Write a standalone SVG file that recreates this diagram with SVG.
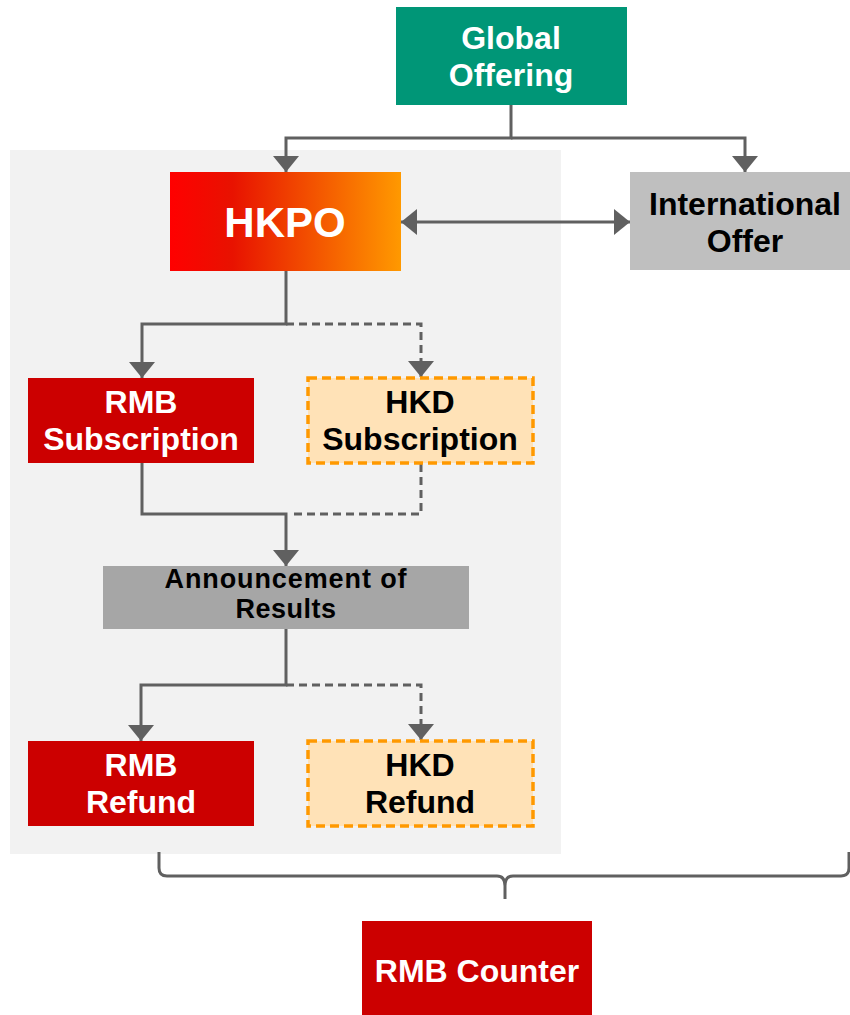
<svg xmlns="http://www.w3.org/2000/svg" width="850" height="1015" viewBox="0 0 850 1015">
<defs>
<linearGradient id="hkpoGrad" x1="0" y1="0" x2="1" y2="0">
<stop offset="0" stop-color="#ff0000"/>
<stop offset="0.27" stop-color="#e81200"/>
<stop offset="1" stop-color="#ff9900"/>
</linearGradient>
<marker id="arr" viewBox="0 0 16 26" refX="16" refY="13" markerWidth="16" markerHeight="26" markerUnits="userSpaceOnUse" orient="auto-start-reverse">
<path d="M0,0 L16,13 L0,26 Z" fill="#606060"/>
</marker>
</defs>
<style>
.t{font-family:"Liberation Sans",Arial,sans-serif;font-weight:bold;text-anchor:middle}
.w{fill:#ffffff}
.k{fill:#000000}
.c{fill:none;stroke:#606060;stroke-width:3}
.d{fill:none;stroke:#606060;stroke-width:3;stroke-dasharray:8 5}
.red{fill:#cc0000}
.hkd{fill:#ffe2b7;stroke:#ff9900;stroke-width:3.5;stroke-dasharray:9 5}
</style>
<rect id="panel" x="10" y="150" width="551" height="704" fill="#f2f2f2"/>
<g id="connectors">
<path class="c" d="M511,105 V138 H286 V172" marker-end="url(#arr)"/>
<path class="c" d="M511,138 H745 V172" marker-end="url(#arr)"/>
<path class="c" d="M401,222 H630" marker-start="url(#arr)" marker-end="url(#arr)"/>
<path class="c" d="M286,271 V324 H142 V378" marker-end="url(#arr)"/>
<path class="d" d="M286,324 H421 V377" marker-end="url(#arr)"/>
<path class="c" d="M142,463 V514 H286 V566" marker-end="url(#arr)"/>
<path class="d" d="M421,464 V514 H290"/>
<path class="c" d="M286,629 V685 H141 V741" marker-end="url(#arr)"/>
<path class="d" d="M286,685 H421 V740" marker-end="url(#arr)"/>
<path class="c" d="M159,852 V868 Q159,876 167,876 H497 Q505,876 505,886 V899 M849,852 V868 Q849,876 841,876 H513 Q505,876 505,886"/>
</g>
<g id="global-offering">
<rect x="396" y="7" width="231" height="98" fill="#009677"/>
<text class="t w" font-size="32" x="511" y="49">Global</text>
<text class="t w" font-size="32" x="511" y="86">Offering</text>
</g>
<g id="hkpo">
<rect x="170" y="172" width="231" height="99" fill="url(#hkpoGrad)"/>
<text class="t w" font-size="42" x="285" y="237">HKPO</text>
</g>
<g id="international-offer">
<rect x="630" y="172" width="220" height="98" fill="#bfbfbf"/>
<text class="t k" font-size="32" x="745" y="215">International</text>
<text class="t k" font-size="32" x="745" y="252">Offer</text>
</g>
<g id="rmb-subscription">
<rect class="red" x="28" y="378" width="226" height="85"/>
<text class="t w" font-size="32" x="141" y="413">RMB</text>
<text class="t w" font-size="32" x="141" y="450">Subscription</text>
</g>
<g id="hkd-subscription">
<rect class="hkd" x="308" y="378" width="225" height="85"/>
<text class="t k" font-size="32" x="420" y="413">HKD</text>
<text class="t k" font-size="32" x="420" y="450">Subscription</text>
</g>
<g id="announcement">
<rect x="103" y="566" width="366" height="63" fill="#a6a6a6"/>
<text class="t k" font-size="27" x="286" y="588" letter-spacing="0.9">Announcement of</text>
<text class="t k" font-size="27" x="286" y="618" letter-spacing="0.5">Results</text>
</g>
<g id="rmb-refund">
<rect class="red" x="28" y="741" width="226" height="85"/>
<text class="t w" font-size="32" x="141" y="776">RMB</text>
<text class="t w" font-size="32" x="141" y="813">Refund</text>
</g>
<g id="hkd-refund">
<rect class="hkd" x="308" y="741" width="225" height="85"/>
<text class="t k" font-size="32" x="420" y="776">HKD</text>
<text class="t k" font-size="32" x="420" y="813">Refund</text>
</g>
<g id="rmb-counter">
<rect class="red" x="362" y="921" width="230" height="94"/>
<text class="t w" font-size="32" x="477" y="982">RMB Counter</text>
</g>
</svg>
